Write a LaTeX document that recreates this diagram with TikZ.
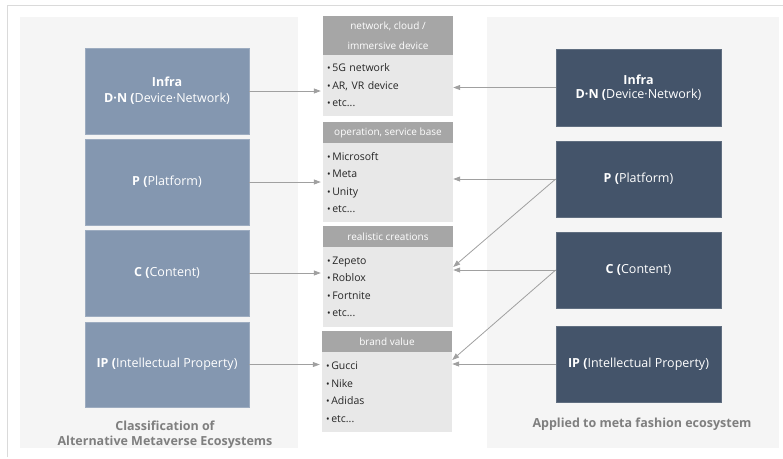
\documentclass[tikz,border=0pt]{standalone}
\usepackage{fontspec}
\setmainfont{Open Sans}
\usetikzlibrary{arrows.meta}

\definecolor{panelbg}{HTML}{F5F5F5}
\definecolor{leftbox}{HTML}{8497B0}
\definecolor{rightbox}{HTML}{44546A}
\definecolor{headgray}{HTML}{A6A6A6}
\definecolor{bodygray}{HTML}{E8E8E8}
\definecolor{bodytext}{HTML}{262626}
\definecolor{arrowgray}{HTML}{A0A0A0}
\definecolor{captiongray}{HTML}{7F7F7F}
\definecolor{framegray}{HTML}{DADADA}

\newcommand\bul{{\fontsize{9.5}{9.5}\selectfont\textbullet}\,}

\begin{document}
\begin{tikzpicture}[x=1pt,y=-1pt,
  catbox/.style={rectangle, inner sep=0pt, text=white, align=center,
    font=\fontsize{12.5}{16}\selectfont},
  leftcat/.style={catbox, fill=leftbox, draw=leftbox!80!white, line width=0.6pt,
    minimum width=164pt, minimum height=86pt},
  rightcat/.style={catbox, fill=rightbox, draw=rightbox!85!white, line width=0.6pt,
    minimum width=165pt, minimum height=76pt},
  headbox/.style={rectangle, inner sep=0pt, fill=headgray, text=white, align=center,
    minimum width=130pt, font=\fontsize{10}{20}\selectfont},
  bodybox/.style={rectangle, fill=bodygray, text=bodytext, inner xsep=4pt, inner ysep=0pt,
    minimum width=130pt, text width=122pt, align=left,
    font=\fontsize{10.5}{17.5}\selectfont},
  caption/.style={text=captiongray, align=center, font=\bfseries\fontsize{12.5}{15}\selectfont},
  arr/.style={draw=arrowgray, line width=0.8pt, -{Triangle[length=7pt,width=5pt]}},
]
\useasboundingbox (0,0) rectangle (783,458);

% outer frame
\draw[framegray, line width=0.8pt] (7,457) -- (7,5) -- (783,5);

% panel backgrounds
\fill[panelbg] (20,17) rectangle (298,448);
\fill[panelbg] (487,17) rectangle (779,448);

% classification boxes (left)
\node[leftcat] (L1) at (167,91)
  {\textbf{Infra}\\\textbf{D·N (}Device·Network)};
\node[leftcat] (L2) at (167,182) {\textbf{P (}Platform)};
\node[leftcat] (L3) at (167,273) {\textbf{C (}Content)};
\node[leftcat, minimum height=85pt] (L4) at (167,364.5)
  {\textbf{IP (}Intellectual Property)};
\node[caption] (LC) at (165,434.5)
  {Classification of\\Alternative Metaverse Ecosystems};

% fashion ecosystem boxes (right)
\node[rightcat, minimum height=77pt, font=\fontsize{12.5}{14.5}\selectfont] (R1) at (638.5,87.5)
  {\textbf{Infra}\\\textbf{D·N (}Device·Network)};
\node[rightcat] (R2) at (638.5,179) {\textbf{P (}Platform)};
\node[rightcat] (R3) at (638.5,270) {\textbf{C (}Content)};
\node[rightcat] (R4) at (638.5,364) {\textbf{IP (}Intellectual Property)};
\node[caption] (RC) at (642,424) {Applied to meta fashion ecosystem};

% middle column: headers and example lists
\node[headbox, minimum height=39pt] (H1) at (388,35.5)
  {network, cloud /\\immersive device};
\node[bodybox, minimum height=61pt] (B1) at (388,85.5)
  {\bul 5G network\\\bul AR, VR device\\\bul etc...};

\node[headbox, minimum height=21pt] (H2) at (388,132.5) {operation, service base};
\node[bodybox, minimum height=79pt] (B2) at (388,182.5)
  {\bul Microsoft\\\bul Meta\\\bul Unity\\\bul etc...};

\node[headbox, minimum height=21pt] (H3) at (388,236.5) {realistic creations};
\node[bodybox, minimum height=80pt] (B3) at (388,287)
  {\bul Zepeto\\\bul Roblox\\\bul Fortnite\\\bul etc...};

\node[headbox, minimum height=21pt] (H4) at (387,341.5) {brand value};
\node[bodybox, minimum height=80pt] (B4) at (387,392)
  {\bul Gucci\\\bul Nike\\\bul Adidas\\\bul etc...};

% connectors from the left
\draw[arr, shorten >=2pt] (L1.east) -- (L1.east -| B1.west);
\draw[arr, shorten >=2pt] (L2.east) -- (L2.east -| B2.west);
\draw[arr, shorten >=2pt] (L3.east) -- (L3.east -| B3.west);
\draw[arr, shorten >=2pt] (L4.east) -- (L4.east -| B4.west);

% connectors from the right
\draw[arr] (R1.west) -- (R1.west -| B1.east);
\draw[arr] (R2.west) -- (R2.west -| B2.east);
\draw[arr] (R3.west) -- (R3.west -| B3.east);
\draw[arr] (R4.west) -- (R4.west -| B4.east);
\draw[arr] (R2.west) -- ([yshift=20pt]B3.east);
\draw[arr] (R3.west) -- ([yshift=32pt]B4.east);
\end{tikzpicture}
\end{document}
